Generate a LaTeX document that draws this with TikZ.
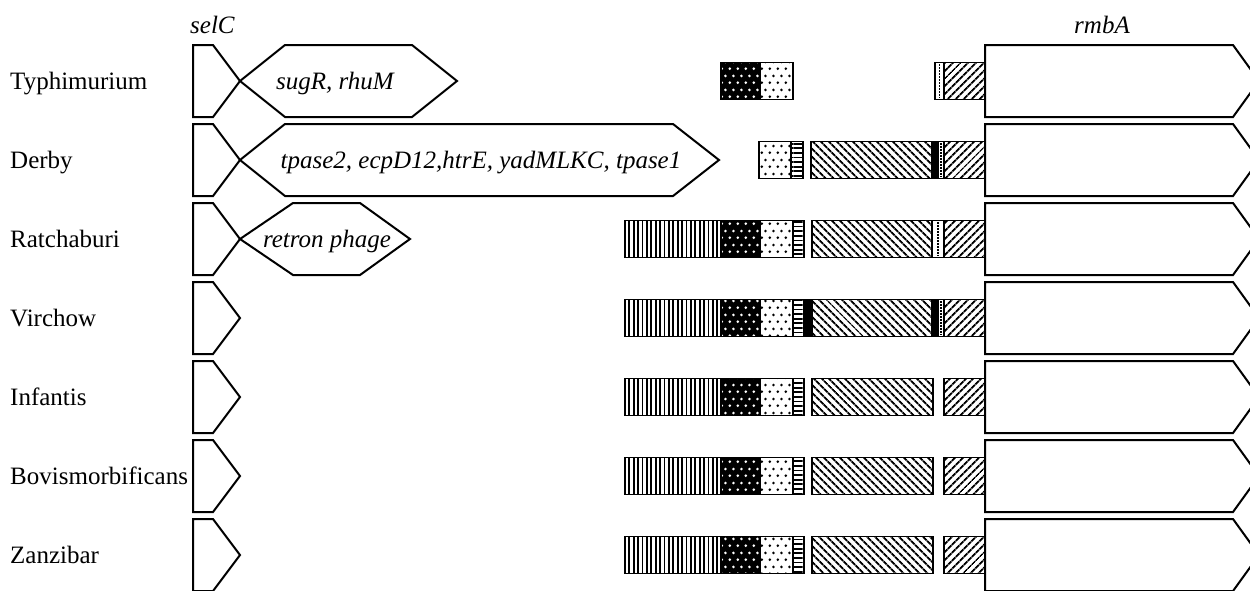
\documentclass[tikz,border=0pt]{standalone}
\usepackage{fontspec}
\setmainfont{Liberation Serif}
\usetikzlibrary{patterns,patterns.meta}

% staggered dot fill used for the two dotted blocks
\pgfdeclarepatternformonly{hexdots}{\pgfpointorigin}{\pgfpoint{8pt}{14pt}}{\pgfpoint{8pt}{14pt}}{%
  \pgfpathcircle{\pgfpoint{2pt}{3.5pt}}{1.55pt}%
  \pgfpathcircle{\pgfpoint{6pt}{10.5pt}}{1.55pt}%
  \pgfusepath{fill}%
}

\tikzset{
  gene/.style={draw, line width=2pt, line join=miter},
  seg/.style={draw, line width=1.8pt},
  vlines/.style={seg, pattern={Lines[angle=90,distance=4.4pt,line width=1.8pt]}},
  hlines/.style={seg, pattern={Lines[angle=0,distance=4.6pt,line width=1.8pt]}},
  bhatch/.style={seg, pattern={Lines[angle=-45,distance=5.4pt,line width=2pt]}},
  fhatch/.style={seg, pattern={Lines[angle=45,distance=5.4pt,line width=2pt]}},
  lightdots/.style={seg, fill=white, pattern=hexdots, pattern color=black},
  darkdots/.style={seg, preaction={fill=black}, pattern=hexdots, pattern color=white},
  solidblk/.style={seg, fill=black},
  strip/.style={seg, fill=white},
  dotline/.style={line width=1.3pt, dash pattern=on 1.5pt off 1.5pt},
  rowlabel/.style={anchor=base west, inner sep=0pt, font=\fontsize{25}{29}\selectfont},
  genelabel/.style={anchor=base, inner sep=0pt, font=\fontsize{25}{29}\selectfont\itshape},
}

% one block of a bar: left x, right x, row centre, style
\newcommand\gseg[4]{\path[#4] (#1,#3-18.5) rectangle (#2,#3+18.5);}
% narrow white strip with a dotted centre line
\newcommand\gstrip[3]{\path[strip] (#1,#3-18.5) rectangle (#2,#3+18.5);
  \draw[dotline] ({(#1+#2)/2},#3-17) -- ({(#1+#2)/2},#3+17);}
% selC gene arrow
\newcommand\selcgene[1]{\draw[gene] (193,#1-36) -- (213,#1-36) -- (240,#1) -- (213,#1+36) -- (193,#1+36) -- cycle;}
% rmbA gene arrow
\newcommand\rmbagene[1]{\draw[gene, fill=white] (985,#1-36) -- (1233,#1-36) -- (1259,#1) -- (1233,#1+36) -- (985,#1+36) -- cycle;}
% inserted gene block starting at the selC tip: row centre, left shoulder, right shoulder, tip
\newcommand\insgene[4]{\draw[gene] (240,#1) -- (#2,#1-36) -- (#3,#1-36) -- (#4,#1) -- (#3,#1+36) -- (#2,#1+36) -- cycle;}
% the common left part of the bar (vertical lines, dots, horizontal lines)
\newcommand\leftbar[1]{\gseg{625}{721}{#1}{vlines}\gseg{721}{760}{#1}{darkdots}\gseg{760}{793}{#1}{lightdots}\gseg{793}{804}{#1}{hlines}}

\begin{document}
\begin{tikzpicture}[x=1pt,y=-1pt]
\useasboundingbox (0,0) rectangle (1250,590);
\fill[white] (0,0) rectangle (1250,590);

% gene names above the first row
\node[genelabel, anchor=base west] (selC) at (190,33) {selC};
\node[genelabel] (rmbA) at (1102,33) {rmbA};

% serovar names
\node[rowlabel] (typh) at (10,89) {Typhimurium};
\node[rowlabel] (derb) at (10,168) {Derby};
\node[rowlabel] (ratc) at (10,247) {Ratchaburi};
\node[rowlabel] (virc) at (10,326) {Virchow};
\node[rowlabel] (infa) at (10,405) {Infantis};
\node[rowlabel] (bovi) at (10,484) {Bovismorbificans};
\node[rowlabel] (zanz) at (10,563) {Zanzibar};

% ---- Typhimurium
\selcgene{81}
\insgene{81}{285}{412}{457}
\node[genelabel] (t1) at (335,89) {sugR, rhuM};
\gseg{721}{760}{81}{darkdots}\gseg{760}{793}{81}{lightdots}
\gstrip{935}{944}{81}\gseg{944}{985}{81}{fhatch}
\rmbagene{81}

% ---- Derby
\selcgene{160}
\insgene{160}{285}{673}{719}
\node[genelabel] (t2) at (481,168) {tpase2, ecpD12,htrE, yadMLKC, tpase1};
\gseg{759}{791}{160}{lightdots}\gseg{791}{803}{160}{hlines}
\gseg{811}{932}{160}{bhatch}\gseg{932}{938}{160}{solidblk}\gstrip{938}{944}{160}\gseg{944}{985}{160}{fhatch}
\rmbagene{160}

% ---- Ratchaburi
\selcgene{239}
\insgene{239}{293}{360}{410}
\node[genelabel] (t3) at (327,247) {retron phage};
\leftbar{239}
\gseg{812}{932}{239}{bhatch}\gstrip{932}{944}{239}\gseg{944}{985}{239}{fhatch}
\rmbagene{239}

% ---- Virchow
\selcgene{318}
\leftbar{318}\gseg{804}{812}{318}{solidblk}
\gseg{812}{932}{318}{bhatch}\gseg{932}{938}{318}{solidblk}\gstrip{938}{944}{318}\gseg{944}{985}{318}{fhatch}
\rmbagene{318}

% ---- Infantis, Bovismorbificans, Zanzibar
\foreach \c in {397,476,555}{
  \selcgene{\c}
  \leftbar{\c}
  \gseg{812}{933}{\c}{bhatch}\gseg{944}{985}{\c}{fhatch}
  \rmbagene{\c}
}
\end{tikzpicture}
\end{document}
